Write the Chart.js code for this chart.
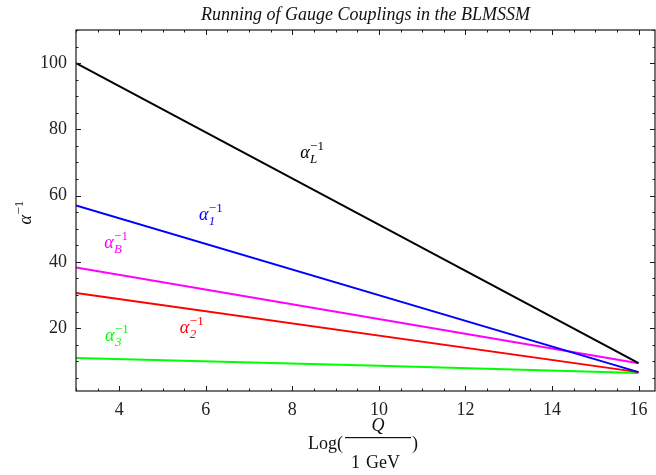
<!DOCTYPE html>
<html><head><meta charset="utf-8">
<script src="https://cdn.jsdelivr.net/npm/chart.js@4"></script>
<style>html,body{margin:0;padding:0;background:#fff}#wrap{width:656px;height:475px}</style>
</head><body><div id="wrap"><canvas id="c" width="656" height="475"></canvas></div>
<script>
// ---- data ----
const logQ   = [3, 16];
const alphaL = [100, 9.4];
const alpha1 = [57.0, 6.7];
const alphaB = [38.3, 9.4];
const alpha2 = [30.6, 6.7];
const logQ3  = [3, 10, 16];
const alpha3 = [11.0, 8.6, 6.4];
const xTicks = [4, 6, 8, 10, 12, 14, 16];
const yTicks = [20, 40, 60, 80, 100];
const titleText = 'Running of Gauge Couplings in the BLMSSM';
const curveSubs = ['L', '1', 'B', '2', '3'];
const curveColors = ['#000000', '#0000ff', '#ff00ff', '#ff0000', '#00ff00'];
// label anchors (data coordinates)
const labelX = [8.18, 5.84, 3.65, 5.40, 3.67];
const labelY = [71.4, 52.7, 44.3, 18.6, 16.2];

const pts = (xs, ys) => xs.map((x, i) => ({x, y: ys[i]}));
const seriesData = [pts(logQ, alphaL), pts(logQ, alpha1), pts(logQ, alphaB), pts(logQ, alpha2), pts(logQ3, alpha3)];

const SERIF = '"Liberation Serif", "DejaVu Serif", serif';

function drawAlpha(ctx, x, y, sub, color, size) {
  ctx.save();
  ctx.fillStyle = color;
  ctx.textBaseline = 'alphabetic';
  ctx.textAlign = 'left';
  ctx.font = 'italic ' + size + 'px ' + SERIF;
  ctx.fillText('\u03b1', x, y);
  const w = ctx.measureText('\u03b1').width;
  const s = Math.round(size * 0.7);
  ctx.font = s + 'px ' + SERIF;
  ctx.fillText('\u2212' + '1', x + w + 0.5, y - size * 0.42);
  if (sub) {
    ctx.font = 'italic ' + s + 'px ' + SERIF;
    ctx.fillText(sub, x + w + 0.5, y + size * 0.28);
  }
  ctx.restore();
}

const decorPlugin = {
  id: 'decor',
  afterDraw(chart) {
    const ctx = chart.ctx;
    const a = chart.chartArea;
    const xs = chart.scales.x, ys = chart.scales.y;
    ctx.save();
    // frame
    ctx.strokeStyle = '#1a1a1a';
    ctx.lineWidth = 1.2;
    ctx.strokeRect(a.left, a.top, a.right - a.left, a.bottom - a.top);
    // inward ticks
    ctx.lineWidth = 1;
    ctx.beginPath();
    for (let v = xs.min; v <= xs.max + 1e-9; v += 0.5) {
      const vv = Math.round(v * 2) / 2;
      if (vv < xs.min || vv > xs.max) continue;
      const px = Math.round(xs.getPixelForValue(vv)) + 0.5;
      const len = xTicks.includes(vv) ? 5 : 2.5;
      ctx.moveTo(px, a.bottom); ctx.lineTo(px, a.bottom - len);
      ctx.moveTo(px, a.top); ctx.lineTo(px, a.top + len);
    }
    for (let v = 5; v <= ys.max; v += 5) {
      const py = Math.round(ys.getPixelForValue(v)) + 0.5;
      const len = yTicks.includes(v) ? 5 : 2.5;
      ctx.moveTo(a.left, py); ctx.lineTo(a.left + len, py);
      ctx.moveTo(a.right, py); ctx.lineTo(a.right - len, py);
    }
    ctx.stroke();

    // curve labels
    curveSubs.forEach((s, i) => {
      drawAlpha(ctx, xs.getPixelForValue(labelX[i]), ys.getPixelForValue(labelY[i]), s, curveColors[i], 18);
    });

    // title
    ctx.fillStyle = '#111';
    ctx.font = 'italic 18px ' + SERIF;
    ctx.textAlign = 'center';
    ctx.textBaseline = 'alphabetic';
    ctx.fillText(titleText, (a.left + a.right) / 2, 20);

    // x axis title: Log( Q / 1 GeV )
    ctx.font = '18px ' + SERIF;
    ctx.textAlign = 'left';
    const x0 = 308;
    ctx.fillText('Log(', x0, 449);
    const logW = ctx.measureText('Log(').width;
    const fx = x0 + logW + 2;
    const fracW = 66;
    ctx.fillRect(fx, 437, fracW, 1.2);
    ctx.textAlign = 'center';
    ctx.font = 'italic 18px ' + SERIF;
    ctx.fillText('Q', fx + fracW / 2, 431);
    ctx.font = '18px ' + SERIF;
    ctx.textAlign = 'left';
    ctx.fillText('1', fx + 6, 468);
    ctx.fillText('GeV', fx + 21, 468);
    ctx.fillText(')', fx + fracW + 1, 449);

    // y axis title (rotated)
    ctx.save();
    ctx.translate(31, (a.top + a.bottom) / 2);
    ctx.rotate(-Math.PI / 2);
    drawAlpha(ctx, -14, 0, '', '#111', 18);
    ctx.restore();

    ctx.restore();
  }
};

new Chart(document.getElementById('c'), {
  type: 'scatter',
  data: {
    datasets: seriesData.map((d, i) => ({
      label: curveSubs[i],
      data: d,
      showLine: true,
      borderColor: curveColors[i],
      backgroundColor: curveColors[i],
      borderWidth: 2,
      pointRadius: 0,
      tension: 0
    }))
  },
  options: {
    responsive: false,
    animation: false,
    layout: { padding: { top: 30, right: 1, left: 0, bottom: 0 } },
    plugins: { legend: { display: false }, tooltip: { enabled: false }, title: { display: false } },
    scales: {
      x: {
        type: 'linear', min: 3, max: 16.38,
        grid: { display: false, drawTicks: false },
        border: { display: false },
        afterBuildTicks: s => { s.ticks = xTicks.map(v => ({ value: v })); },
        afterFit: s => { s.height = 84; },
        ticks: { color: '#222', padding: 8, maxRotation: 0, autoSkip: false,
                 font: { family: SERIF, size: 18 } }
      },
      y: {
        type: 'linear', min: 1, max: 110,
        grid: { display: false, drawTicks: false },
        border: { display: false },
        afterBuildTicks: s => { s.ticks = yTicks.map(v => ({ value: v })); },
        afterFit: s => { s.width = 76; },
        ticks: { color: '#222', padding: 9, autoSkip: false,
                 font: { family: SERIF, size: 18 } }
      }
    }
  },
  plugins: [decorPlugin]
});
</script>
</body></html>
